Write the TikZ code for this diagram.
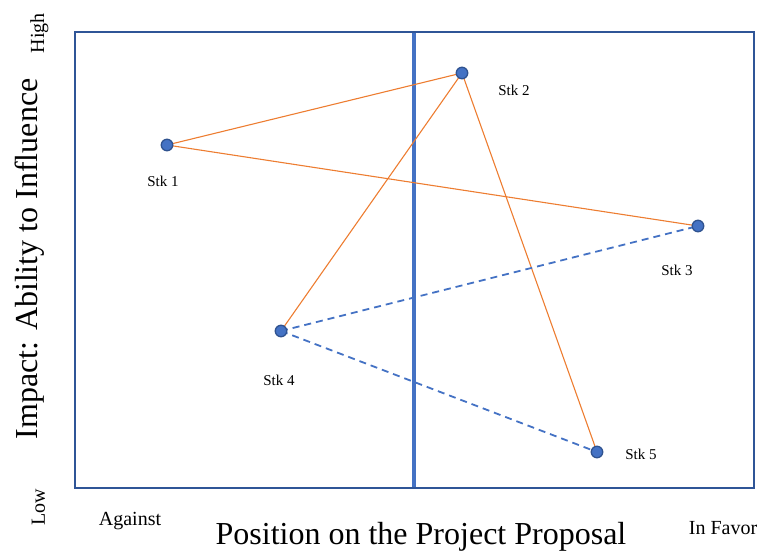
\documentclass[tikz,border=0pt]{standalone}
\usepackage{fontspec}
\setmainfont{Liberation Serif}
\definecolor{frameblue}{HTML}{2F5597}
\definecolor{accentblue}{HTML}{4472C4}
\definecolor{dotedge}{HTML}{2F528F}
\definecolor{linkorange}{HTML}{ED7D31}
\begin{document}
\begin{tikzpicture}[x=1pt,y=-1pt,
  stkdot/.style={circle,fill=accentblue,draw=dotedge,line width=1.3pt,minimum size=11.5pt,inner sep=0pt},
  stklabel/.style={anchor=base,font=\fontsize{15}{18}\selectfont},
  endlabel/.style={anchor=base,font=\fontsize{20}{24}\selectfont},
  axislabel/.style={anchor=base,font=\fontsize{32}{38}\selectfont},
  solidlink/.style={linkorange,line width=1.1pt},
  dashlink/.style={accentblue,line width=1.8pt,dash pattern=on 7pt off 5pt}]
\useasboundingbox (0,0) rectangle (761,552);
% quadrant frame and divider
\draw[frameblue,line width=2pt] (75,32) rectangle (754,488);
\draw[accentblue,line width=4pt] (414,33) -- (414,487);
% stakeholder positions
\coordinate (p1) at (167,145);
\coordinate (p2) at (462,73);
\coordinate (p3) at (698,226);
\coordinate (p4) at (281,331);
\coordinate (p5) at (597,452);
% links
\draw[solidlink] (p1) -- (p2);
\draw[solidlink] (p1) -- (p3);
\draw[solidlink] (p2) -- (p4);
\draw[solidlink] (p2) -- (p5);
\draw[dashlink] (p4) -- (p3);
\draw[dashlink] (p4) -- (p5);
% markers
\foreach \i in {1,...,5} \node[stkdot] (s\i) at (p\i) {};
% stakeholder labels
\node[stklabel] (l1) at (163,186) {Stk 1};
\node[stklabel] (l2) at (514,95) {Stk 2};
\node[stklabel] (l3) at (677,275) {Stk 3};
\node[stklabel] (l4) at (279,385) {Stk 4};
\node[stklabel] (l5) at (641,459) {Stk 5};
% axis labels
\node[endlabel] (against) at (130,525) {Against};
\node[endlabel] (favor) at (723,534) {In Favor};
\node[axislabel] (xlab) at (421,544) {Position on the Project Proposal};
\node[endlabel,rotate=90] (high) at (44,33) {High};
\node[endlabel,rotate=90] (low) at (45,507) {Low};
\node[axislabel,rotate=90] (ylab) at (37,259) {Impact: Ability to Influence};
\end{tikzpicture}
\end{document}
